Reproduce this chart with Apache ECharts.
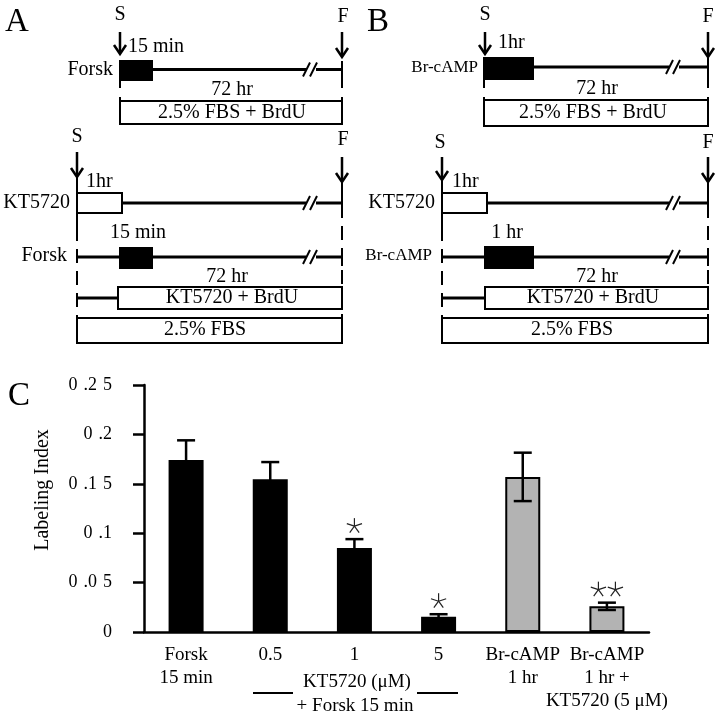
<!DOCTYPE html>
<html>
<head>
<meta charset="utf-8">
<script src="https://cdn.jsdelivr.net/npm/echarts@6/dist/echarts.min.js"></script>
<style>
  html, body { margin: 0; padding: 0; background: #fff; }
  #main { width: 720px; height: 717px; }
</style>
</head>
<body>
<div id="main"></div>
<script>
// panel C data
var categories = ['Forsk\n15 min', '0.5', '1', '5', 'Br-cAMP\n1 hr', 'Br-cAMP\n1 hr +\nKT5720 (5 μM)'];
var labelingIndex = [0.174, 0.1545, 0.085, 0.0155, 0.157, 0.026];
var errors = [0.020, 0.0175, 0.009, 0.0025, 0.0245, 0.0037];
var stars = [0, 0, 1, 1, 0, 2];
var yTickLabels = ['0', '0\u2004.0\u20045', '0\u2004.1', '0\u2004.1\u20045', '0\u2004.2', '0\u2004.2\u20045'];

var SERIF = '"Liberation Serif", "DejaVu Serif", serif';

// ---- helpers for the A / B schematics ----
var els = [];
function txt(x, y, s, align, size) {
	els.push({
		type: 'text', x: x, y: y, silent: true,
		style: { text: s, fill: '#000', font: (size || 20) + 'px ' + SERIF, textAlign: align || 'center', textVerticalAlign: 'middle' }
	});
}
function ln(x1, y1, x2, y2, lw, dash) {
	els.push({
		type: 'line', silent: true,
		shape: { x1: x1, y1: y1, x2: x2, y2: y2 },
		style: { stroke: '#000', lineWidth: lw || 2, lineDash: dash || null }
	});
}
function box(x, y, w, h, fill) {
	els.push({
		type: 'rect', silent: true,
		shape: { x: x, y: y, width: w, height: h },
		style: { fill: fill, stroke: '#000', lineWidth: 2 }
	});
}
function arrow(x, y1, y2) {
	ln(x, y1, x, y2 - 1, 2.5);
	els.push({
		type: 'polyline', silent: true,
		shape: { points: [[x - 6, y2 - 9], [x, y2], [x + 6, y2 - 9]] },
		style: { stroke: '#000', lineWidth: 2.5, fill: null }
	});
}
function brk(x, y) {
	els.push({ type: 'rect', silent: true, shape: { x: x + 1, y: y - 3, width: 10, height: 6 }, style: { fill: '#fff' } });
	ln(x - 2, y + 7, x + 5, y - 7, 2);
	ln(x + 5, y + 7, x + 12, y - 7, 2);
}
var DASH = [14, 8];

// panel A, top
txt(5, 22, 'A', 'left', 33);
txt(120, 15, 'S'); txt(343, 17, 'F');
arrow(120, 32, 54); arrow(342, 32, 57);
txt(128, 47, '15 min', 'left');
txt(113, 70, 'Forsk', 'right');
ln(152, 69.5, 342, 69.5, 3); brk(305, 69.5); ln(342, 61, 342, 78);
box(120, 61, 32, 19, '#000');
ln(120, 80, 120, 88); ln(342, 78, 342, 88);
txt(232, 90, '72 hr');
ln(120, 97, 120, 124); ln(342, 97, 342, 124);
box(120, 101, 222, 23, '#fff');
txt(232, 113, '2.5% FBS + BrdU');

// panel A, bottom
txt(77, 137, 'S'); txt(343, 140, 'F');
arrow(77, 152, 177); arrow(342, 157, 182);
txt(86, 182, '1hr', 'left');
ln(77, 177, 77, 227); ln(77, 227, 77, 343, 2, DASH);
ln(342, 182, 342, 343, 2, DASH);
txt(70, 203, 'KT5720', 'right');
ln(122, 203, 342, 203, 3); brk(305, 203); ln(342, 195, 342, 211);
box(77, 193, 45, 20, '#fff');
txt(138, 233, '15 min');
txt(67, 256, 'Forsk', 'right');
ln(77, 257, 342, 257, 3); brk(305, 257); ln(342, 248, 342, 266);
box(120, 248, 32, 20, '#000');
txt(227, 277, '72 hr');
ln(77, 298, 118, 298, 3);
box(118, 287, 224, 22, '#fff'); txt(232, 298, 'KT5720 + BrdU');
box(77, 318, 265, 25, '#fff'); txt(205, 330, '2.5% FBS');

// panel B, top
txt(367, 22, 'B', 'left', 33);
txt(485, 15, 'S'); txt(708, 17, 'F');
arrow(485, 32, 54); arrow(708, 32, 57);
txt(498, 43, '1hr', 'left');
txt(478, 68, 'Br-cAMP', 'right', 17);
ln(533, 67, 708, 67, 3); brk(668, 67); ln(708, 58, 708, 78);
box(484, 58, 49, 21, '#000');
ln(484, 79, 484, 88); ln(708, 78, 708, 88);
txt(597, 89, '72 hr');
ln(484, 97, 484, 126); ln(708, 97, 708, 126);
box(484, 100, 224, 26, '#fff'); txt(593, 113, '2.5% FBS + BrdU');

// panel B, bottom
txt(440, 143, 'S'); txt(708, 143, 'F');
arrow(442, 157, 180); arrow(708, 157, 182);
txt(452, 182, '1hr', 'left');
ln(442, 180, 442, 227); ln(442, 227, 442, 343, 2, DASH);
ln(708, 182, 708, 343, 2, DASH);
txt(435, 203, 'KT5720', 'right');
ln(487, 203, 708, 203, 3); brk(668, 203); ln(708, 195, 708, 211);
box(442, 193, 45, 20, '#fff');
txt(507, 233, '1 hr');
txt(432, 256, 'Br-cAMP', 'right', 17);
ln(442, 257, 708, 257, 3); brk(668, 257); ln(708, 248, 708, 266);
box(485, 247, 48, 21, '#000');
txt(597, 277, '72 hr');
ln(442, 298, 485, 298, 3);
box(485, 287, 223, 22, '#fff'); txt(593, 298, 'KT5720 + BrdU');
box(442, 318, 266, 25, '#fff'); txt(572, 330, '2.5% FBS');

// panel C decorations
txt(8, 396, 'C', 'left', 33);
els.push({
	type: 'text', x: 43, y: 490, rotation: Math.PI / 2, silent: true,
	style: { text: 'Labeling Index', fill: '#000', font: '20px ' + SERIF, textAlign: 'center', textVerticalAlign: 'middle' }
});
txt(357, 682, 'KT5720 (μM)', 'center', 19);
txt(355, 706, '+ Forsk 15 min', 'center', 19);
ln(253, 693, 293, 693, 2); ln(417, 693, 458, 693, 2);

var errData = labelingIndex.map(function (v, i) {
	return [i, v - errors[i], v + errors[i], stars[i]];
});

var myChart = echarts.init(document.getElementById('main'));
var option = {
	animation: false,
	backgroundColor: '#fff',
	graphic: { elements: els },
	grid: { left: 144, right: 71, top: 385, bottom: 85, containLabel: false },
	xAxis: {
		type: 'category',
		data: categories,
		axisLine: { lineStyle: { color: '#000', width: 2.5 } },
		axisTick: { inside: true, length: 6, lineStyle: { color: '#000', width: 2.5 } },
		axisLabel: { interval: 0, color: '#000', fontFamily: SERIF, fontSize: 19, lineHeight: 23, margin: 12 }
	},
	yAxis: {
		type: 'value',
		min: 0,
		max: 0.25,
		interval: 0.05,
		splitLine: { show: false },
		axisLine: { show: true, lineStyle: { color: '#000', width: 2.5 } },
		axisTick: { show: true, length: 11, lineStyle: { color: '#000', width: 2.5 } },
		axisLabel: {
			color: '#000', fontFamily: SERIF, fontSize: 18, margin: 32,
			formatter: function (v) { return yTickLabels[Math.round(v / 0.05)]; }
		}
	},
	series: [{
		type: 'bar',
		data: labelingIndex,
		barWidth: 35,
		itemStyle: {
			color: function (p) { return p.dataIndex < 4 ? '#000' : '#b3b3b3'; },
			borderColor: '#000',
			borderWidth: 2
		}
	}, {
		type: 'custom',
		data: errData,
		renderItem: function (params, api) {
			var i = api.value(0);
			var top = api.coord([i, api.value(2)]);
			var bot = api.coord([i, api.value(1)]);
			var n = api.value(3);
			var st = { stroke: '#000', lineWidth: 2.5 };
			var cap = 9;
			var children = [
				{ type: 'line', shape: { x1: top[0], y1: top[1], x2: bot[0], y2: bot[1] }, style: st },
				{ type: 'line', shape: { x1: top[0] - cap, y1: top[1], x2: top[0] + cap, y2: top[1] }, style: st },
				{ type: 'line', shape: { x1: bot[0] - cap, y1: bot[1], x2: bot[0] + cap, y2: bot[1] }, style: st }
			];
			// significance asterisks
			for (var k = 0; k < n; k++) {
				var cx = top[0] + (k - (n - 1) / 2) * 17;
				var cy = top[1] - 13;
				for (var a = 0; a < 5; a++) {
					var ang = (-90 + a * 72) * Math.PI / 180;
					children.push({
						type: 'line',
						shape: { x1: cx, y1: cy, x2: cx + 8 * Math.cos(ang), y2: cy + 8 * Math.sin(ang) },
						style: { stroke: '#222', lineWidth: 1.2 }
					});
				}
			}
			return { type: 'group', children: children };
		},
		z: 3
	}]
};
myChart.setOption(option);
</script>
</body>
</html>
